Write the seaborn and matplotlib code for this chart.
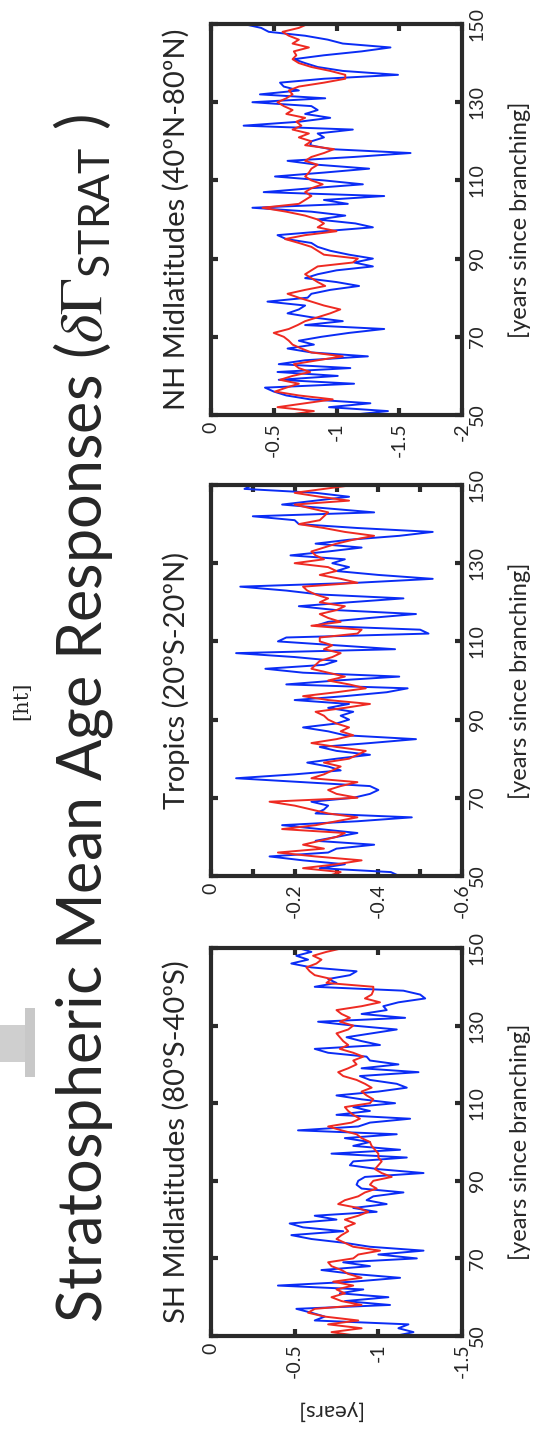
import numpy as np
import pandas as pd
import matplotlib
matplotlib.use("Agg")
import matplotlib.pyplot as plt
import seaborn as sns
from matplotlib.patches import Rectangle

# ---------------- data ----------------
years = list(range(50, 151))

sh_blue = [-1.10, -1.21, -1.12, -1.18, -0.62, -0.68, -0.60, -0.51, -1.07, -0.80,
           -1.06, -0.77, -0.91, -0.40, -0.85, -1.13, -0.85, -0.66, -0.95, -0.79,
           -1.23, -1.00, -1.27, -0.95, -0.80, -0.60, -0.48, -0.79, -0.55, -0.47,
           -0.75, -0.62, -0.99, -0.85, -1.05, -0.93, -0.97, -1.15, -0.90, -0.87,
           -0.88, -0.92, -1.27, -1.00, -0.83, -0.85, -1.17, -0.72, -1.13, -0.85,
           -0.95, -0.80, -1.11, -0.52, -0.88, -0.95, -1.19, -0.75, -0.95, -0.85,
           -1.10, -0.90, -0.75, -1.00, -1.17, -1.11, -0.95, -0.89, -1.24, -0.90,
           -1.12, -0.95, -0.93, -0.70, -0.62, -1.01, -0.90, -0.81, -0.96, -1.11,
           -0.85, -0.64, -1.16, -0.90, -1.05, -1.03, -1.12, -1.28, -1.25, -1.15,
           -0.62, -0.75, -0.70, -0.83, -0.87, -0.60, -0.48, -0.58, -0.51, -0.60,
           -0.52]
sh_red = [-0.88, -0.72, -0.90, -0.70, -0.88, -0.68, -0.58, -0.62, -0.90, -0.78,
          -0.72, -0.80, -0.75, -0.85, -0.73, -0.90, -0.82, -0.78, -0.72, -0.70,
          -0.85, -0.88, -1.01, -0.85, -0.80, -0.75, -0.78, -0.82, -0.80, -0.86,
          -0.80, -0.88, -0.94, -0.88, -0.76, -0.80, -0.88, -0.92, -0.99, -0.95,
          -0.97, -1.08, -1.02, -0.98, -1.00, -1.02, -1.00, -1.00, -0.98, -0.96,
          -0.95, -0.90, -0.87, -0.78, -0.70, -0.84, -0.89, -0.85, -0.82, -0.80,
          -0.95, -0.97, -0.93, -0.90, -0.96, -0.92, -0.87, -0.79, -0.76, -0.82,
          -0.87, -0.85, -0.91, -0.85, -0.77, -0.82, -0.79, -0.77, -0.75, -0.82,
          -0.85, -0.77, -0.83, -0.78, -0.75, -0.90, -1.01, -0.92, -0.96, -0.97,
          -0.97, -0.69, -0.72, -0.62, -0.59, -0.57, -0.63, -0.66, -0.61, -0.69,
          -0.79]

tr_blue = [-0.45, -0.43, -0.26, -0.32, -0.22, -0.14, -0.28, -0.30, -0.39, -0.25,
           -0.30, -0.35, -0.26, -0.17, -0.35, -0.48, -0.25, -0.27, -0.28, -0.24,
           -0.34, -0.38, -0.40, -0.38, -0.22, -0.06, -0.20, -0.31, -0.28, -0.23,
           -0.30, -0.38, -0.30, -0.26, -0.38, -0.49, -0.32, -0.28, -0.22, -0.30,
           -0.33, -0.31, -0.34, -0.28, -0.33, -0.20, -0.32, -0.42, -0.47, -0.18,
           -0.30, -0.45, -0.22, -0.13, -0.27, -0.30, -0.20, -0.06, -0.44, -0.30,
           -0.16, -0.18, -0.52, -0.50, -0.25, -0.28, -0.38, -0.49, -0.30, -0.21,
           -0.33, -0.46, -0.26, -0.18, -0.07, -0.35, -0.53, -0.40, -0.30, -0.33,
           -0.29, -0.32, -0.19, -0.28, -0.36, -0.25, -0.33, -0.45, -0.53, -0.35,
           -0.21, -0.20, -0.10, -0.39, -0.28, -0.17, -0.25, -0.33, -0.25, -0.08,
           -0.10]
tr_red = [-0.28, -0.31, -0.22, -0.30, -0.36, -0.25, -0.16, -0.27, -0.22, -0.26,
          -0.30, -0.32, -0.17, -0.25, -0.30, -0.35, -0.28, -0.24, -0.20, -0.14,
          -0.35, -0.30, -0.28, -0.31, -0.35, -0.24, -0.27, -0.29, -0.31, -0.27,
          -0.33, -0.35, -0.37, -0.30, -0.24, -0.30, -0.34, -0.31, -0.33, -0.30,
          -0.28, -0.27, -0.25, -0.32, -0.38, -0.28, -0.22, -0.30, -0.37, -0.33,
          -0.28, -0.32, -0.28, -0.24, -0.25, -0.26, -0.29, -0.31, -0.27, -0.29,
          -0.26, -0.26, -0.35, -0.36, -0.24, -0.31, -0.28, -0.26, -0.30, -0.32,
          -0.26, -0.28, -0.25, -0.23, -0.22, -0.35, -0.31, -0.26, -0.30, -0.28,
          -0.20, -0.27, -0.25, -0.24, -0.27, -0.30, -0.34, -0.39, -0.32, -0.27,
          -0.21, -0.26, -0.27, -0.28, -0.24, -0.20, -0.33, -0.26, -0.20, -0.27,
          -0.34]

nh_blue = [-1.11, -1.41, -0.94, -1.27, -0.79, -0.60, -0.50, -0.43, -1.14, -0.54,
           -1.01, -0.53, -1.11, -0.54, -0.75, -1.25, -0.80, -0.61, -0.82, -0.70,
           -0.88, -1.10, -1.38, -0.75, -1.05, -0.80, -0.61, -0.70, -0.75, -0.45,
           -0.77, -0.80, -0.95, -1.18, -1.00, -0.75, -0.85, -1.00, -1.29, -1.14,
           -1.29, -1.10, -0.95, -0.85, -0.80, -0.60, -0.53, -0.90, -1.29, -1.15,
           -0.85, -1.07, -0.80, -0.33, -1.09, -0.90, -1.38, -0.42, -0.80, -1.21,
           -0.90, -0.51, -0.90, -1.26, -0.85, -0.61, -1.14, -1.59, -0.95, -0.79,
           -0.80, -0.90, -0.85, -1.13, -0.26, -0.70, -0.95, -0.75, -0.85, -0.80,
           -0.33, -0.91, -0.39, -0.70, -0.58, -0.55, -0.90, -1.49, -1.05, -0.85,
           -0.75, -0.66, -0.90, -1.20, -1.43, -1.05, -0.93, -0.75, -0.46, -0.40,
           -0.26]
nh_red = [-0.61, -0.82, -0.53, -0.75, -0.97, -0.70, -0.51, -0.60, -0.70, -0.55,
          -0.65, -0.79, -0.70, -0.66, -0.85, -1.05, -0.80, -0.72, -0.65, -0.62,
          -0.58, -0.50, -0.62, -0.69, -0.75, -0.85, -0.95, -1.03, -0.90, -0.80,
          -0.70, -0.61, -0.75, -0.91, -0.85, -0.80, -0.75, -0.80, -0.85, -1.13,
          -1.17, -0.90, -0.85, -0.80, -0.70, -0.59, -0.75, -1.00, -0.85, -0.90,
          -0.85, -0.75, -0.60, -0.41, -0.70, -0.75, -0.80, -0.75, -0.80, -0.89,
          -0.80, -0.75, -0.78, -0.80, -0.85, -0.75, -0.80, -0.90, -0.98, -0.75,
          -0.80, -0.70, -0.78, -0.65, -0.72, -0.68, -0.75, -0.60, -0.65, -0.58,
          -0.53, -0.60, -0.65, -0.62, -0.70, -0.90, -1.07, -1.07, -0.95, -0.80,
          -0.70, -0.65, -0.68, -0.66, -0.78, -0.65, -0.70, -0.62, -0.57, -0.70,
          -0.77]

panel_titles = ["SH Midlatitudes (80ºS-40ºS)", "Tropics (20ºS-20ºN)",
                "NH Midlatitudes (40ºN-80ºN)"]
year_ticks = [50, 70, 90, 110, 130, 150]
year_ticklabels = ["50", "70", "90", "110", "130", "150"]
sh_ticks = [0, -0.5, -1, -1.5]
sh_ticklabels = ["0", "-0.5", "-1", "-1.5"]
tr_ticks = [0, -0.2, -0.4, -0.6]
tr_minor = [-0.1, -0.3, -0.5]
tr_ticklabels = ["0", "-0.2", "-0.4", "-0.6"]
nh_ticks = [0, -0.5, -1, -1.5, -2]
nh_ticklabels = ["0", "-0.5", "-1", "-1.5", "-2"]
main_title = r"Stratospheric Mean Age Responses ($\delta\Gamma_{\mathregular{STRAT}}$ )"

# ---------------- style ----------------
sns.set_style("ticks")
plt.rcParams["font.family"] = ["Lato", "DejaVu Sans"]
plt.rcParams["mathtext.fontset"] = "stix"
plt.rcParams["axes.unicode_minus"] = False

W, H = 534, 1429
fig = plt.figure(figsize=(W / 100, H / 100), dpi=100)
fig.patch.set_facecolor("white")

FRAME = "#2a2a2a"
BLUE = "#0a2cf5"
RED = "#ee2a22"

def fx(px):
    return px / W

def fy(py):
    return 1 - py / H

left, right = 211, 462
panels = [
    (948, 1336, sh_blue, sh_red, (0, -1.5), sh_ticks, sh_ticklabels, None, panel_titles[0]),
    (485, 876, tr_blue, tr_red, (0, -0.6), tr_ticks, tr_ticklabels, tr_minor, panel_titles[1]),
    (24, 415, nh_blue, nh_red, (0, -2), nh_ticks, nh_ticklabels, None, panel_titles[2]),
]

for top, bot, blue, red, xlim, ticks, labels, minor, title in panels:
    ax = fig.add_axes([fx(left), fy(bot), fx(right) - fx(left), (bot - top) / H])
    df = pd.DataFrame({"year": years, "blue": blue, "red": red})
    sns.lineplot(data=df, x="blue", y="year", sort=False, estimator=None,
                 color=BLUE, lw=1.4, ax=ax)
    sns.lineplot(data=df, x="red", y="year", sort=False, estimator=None,
                 color=RED, lw=1.4, ax=ax)
    ax.set_xlim(*xlim)
    ax.set_ylim(50, 150)
    ax.set_xticks(ticks)
    ax.set_xticklabels(labels, rotation=90, fontsize=14)
    if minor is not None:
        ax.set_xticks(minor, minor=True)
    ax.set_yticks(year_ticks)
    ax.set_yticklabels(year_ticklabels, rotation=90, va="center", fontsize=14)
    ax.yaxis.tick_right()
    ax.tick_params(axis="both", which="both", direction="in", length=5, width=3,
                   color=FRAME, top=True, bottom=True, left=True, right=True,
                   labelleft=False, labelright=True, labeltop=False,
                   labelbottom=True, pad=5)
    ax.set_xlabel("")
    ax.set_ylabel("")
    for s in ax.spines.values():
        s.set_linewidth(3)
        s.set_color(FRAME)
        s.set_visible(True)
    cy = fy((top + bot) / 2)
    fig.text(fx(176), cy, title, rotation=90, ha="center", va="center", fontsize=21)
    fig.text(fx(520), cy, "[years since branching]", rotation=90, ha="center",
             va="center", fontsize=17)

# y label of the first panel (upside down)
fig.text(fx(328), fy(1410), "[years]", rotation=180, ha="center", va="center", fontsize=16)

# main title
fig.text(fx(83), fy(718), main_title, rotation=90, ha="center", va="center", fontsize=44)

# stray "[ht]" mark
fig.text(fx(22), fy(701), "[ht]", rotation=90, ha="center", va="center",
         fontsize=15, family="DejaVu Serif")

# grey artefact at the left edge
fig.add_artist(Rectangle((fx(0), fy(1062)), fx(26), (1062 - 1025) / H,
                         transform=fig.transFigure, color="#cfcfcf", lw=0))
fig.add_artist(Rectangle((fx(25), fy(1077)), fx(10), (1077 - 1008) / H,
                         transform=fig.transFigure, color="#c8c8c8", lw=0))

fig.savefig("out.png", dpi=100)
